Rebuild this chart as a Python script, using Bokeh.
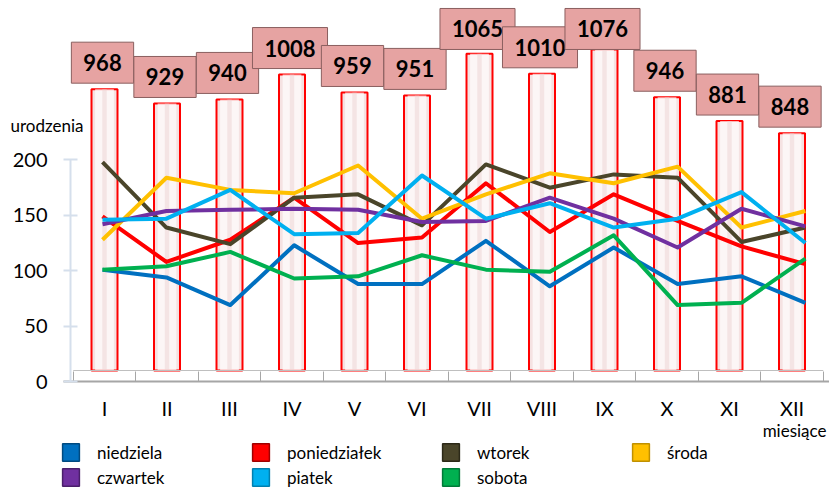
import numpy as np
from bokeh.plotting import figure
from bokeh.models import (Range1d, FixedTicker, Label, Legend, LegendItem,
                          ColumnDataSource)
from bokeh.embed import file_html
from bokeh.resources import INLINE
from bokeh.core.properties import value

# ---------------- data ----------------
months = ["I", "II", "III", "IV", "V", "VI", "VII", "VIII", "IX", "X", "XI", "XII"]
totals = [968, 929, 940, 1008, 959, 951, 1065, 1010, 1076, 946, 881, 848]

niedziela = [101, 94, 69, 123, 88, 88, 127, 86, 121, 88, 95, 71]
poniedzialek = [149, 108, 128, 166, 125, 130, 179, 135, 169, 145, 122, 106]
wtorek = [198, 139, 124, 166, 169, 141, 196, 175, 187, 184, 126, 139]
sroda = [128, 184, 173, 170, 195, 147, 169, 188, 179, 194, 139, 154]
czwartek = [142, 154, 155, 156, 155, 144, 145, 166, 147, 121, 156, 140]
piatek = [146, 147, 173, 133, 134, 186, 147, 161, 139, 147, 171, 125]
sobota = [101, 104, 117, 93, 95, 114, 101, 99, 132, 69, 71, 111]

series_names = ["niedziela", "poniedziałek", "wtorek", "środa", "czwartek", "piatek", "sobota"]
series_values = [niedziela, poniedzialek, wtorek, sroda, czwartek, piatek, sobota]
series_colors = ["#0070c0", "#ff0000", "#4a452a", "#ffc000", "#7030a0", "#00b0f0", "#00b050"]
marker_edges = ["#004a80", "#a00000", "#2c2918", "#c09000", "#4a1f6b", "#0080b0", "#007a38"]

y_ticks = [0, 50, 100, 150, 200]
bar_base = 200
label_cap = 1060

FONT = "Lato"

# ---------------- figure (frame covers the whole canvas; axes at fixed locations) ----------------
x = np.arange(len(months))
p = figure(width=829, height=488,
           x_range=Range1d(-1.664, 11.6), y_range=Range1d(-96.6, 344.0),
           output_backend="svg", toolbar_location=None,
           min_border_left=0, min_border_right=0, min_border_top=0, min_border_bottom=0)
p.extra_y_ranges = {"tot": Range1d(-122.1, 1210.1)}
p.extra_x_ranges = {"ln": Range1d(-1.596, 11.377)}
p.outline_line_color = None
p.background_fill_color = "white"
p.border_fill_color = "white"
p.xgrid.visible = False
p.ygrid.visible = False

# bars (monthly totals, secondary scale)
bar_src = ColumnDataSource(dict(x=x, top=totals, lab=[str(t) for t in totals],
                                ly=np.minimum(totals, label_cap)))
p.vbar(x="x", top="top", bottom=bar_base, width=0.416, source=bar_src, y_range_name="tot",
       fill_color="#f5e2e2", line_color="#ff0000", line_width=2)
p.vbar(x="x", top="top", bottom=bar_base, width=0.30, source=bar_src, y_range_name="tot",
       fill_color="white", fill_alpha=0.7, line_color=None)
p.vbar(x="x", top="top", bottom=bar_base, width=0.07, source=bar_src, y_range_name="tot",
       fill_color="#ecd2d2", fill_alpha=0.5, line_color=None)

# floor top edge at the bar base
p.segment(x0=[x[0] - 0.5], x1=[x[-1] + 0.5], y0=[bar_base], y1=[bar_base], y_range_name="tot",
          line_color="#bfbfbf", line_width=1)

p.text(x="x", y="ly", text="lab", source=bar_src, y_range_name="tot",
       text_align="center", text_baseline="bottom", y_offset=-6, x_offset=-2,
       text_font=value(FONT), text_font_style="bold", text_font_size="22px",
       text_color="black",
       background_fill_color="#e6a3a2", border_line_color="#8a5f5f",
       border_line_width=1, padding=12)

# lines (per weekday)
for name, vals, col in zip(series_names, series_values, series_colors):
    p.line(x, vals, x_range_name="ln", line_color=col, line_width=4, line_join="round")

# axes
xa = p.xaxis[0]
xa.fixed_location = 0
xa.bounds = (-0.656, 11.6)
xa.ticker = FixedTicker(ticks=list(range(len(months))),
                        minor_ticks=[i - 0.5 for i in range(len(months) + 1)])
xa.major_label_overrides = {i: m for i, m in enumerate(months)}
xa.major_tick_in = 0
xa.major_tick_out = 0
xa.minor_tick_in = 10
xa.minor_tick_out = 0
xa.minor_tick_line_color = "#a6a6a6"
xa.axis_line_color = "#a6a6a6"
xa.axis_line_width = 2
xa.major_label_standoff = 14
xa.major_label_text_font = FONT
xa.major_label_text_font_size = "20px"
xa.major_label_text_color = "black"

ya = p.yaxis[0]
ya.fixed_location = -0.544
ya.ticker = FixedTicker(ticks=y_ticks)
ya.bounds = (0, 200)
ya.axis_line_color = "#d5dfec"
ya.axis_line_width = 2
ya.major_tick_line_color = "#d5dfec"
ya.major_tick_line_width = 2
ya.major_tick_in = 7
ya.major_tick_out = 7
ya.minor_tick_line_color = None
ya.major_label_standoff = 16
ya.major_label_text_font = FONT
ya.major_label_text_font_size = "20px"
ya.major_label_text_color = "black"

# legend using square swatches, two rows
swatches = []
for name, col, edge in zip(series_names, series_colors, marker_edges):
    r = p.quad(left=[np.nan], right=[np.nan], top=[np.nan], bottom=[np.nan],
               fill_color=col, line_color=edge, line_width=1.5)
    swatches.append(LegendItem(label=name, renderers=[r]))

def make_legend(its, loc):
    lg = Legend(items=its, location=loc, orientation="horizontal",
                padding=0, margin=0, spacing=0, glyph_width=21, glyph_height=22,
                label_height=22, label_width=153, label_standoff=16,
                label_text_font=FONT, label_text_font_size="17px",
                label_text_color="black", border_line_color=None, background_fill_alpha=0)
    lg.label_text_baseline = "middle"
    return lg

p.add_layout(make_legend(swatches[:4], (60, 25)), "center")
p.add_layout(make_legend(swatches[4:], (60, 0)), "center")

p.add_layout(Label(x=-1.504, y=231.2, text="urodzenia", text_align="left", text_baseline="middle",
                   text_font=FONT, text_font_size="17px", text_color="black"))
p.add_layout(Label(x=11.552, y=-44.2, text="miesiące", text_align="right", text_baseline="middle",
                   text_font=FONT, text_font_size="17px", text_color="black"))

open("out.html", "w").write(file_html(p, INLINE))
